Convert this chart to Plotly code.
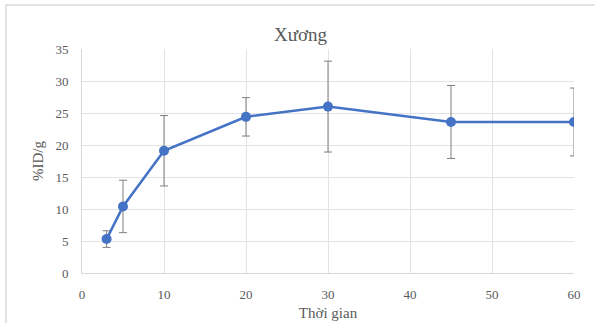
import plotly.graph_objects as go

time_min = [3, 5, 10, 20, 30, 45, 60]
uptake = [5.3, 10.4, 19.1, 24.4, 26.0, 23.6, 23.6]
uptake_sd = [1.3, 4.1, 5.5, 3.0, 7.1, 5.7, 5.3]

title_text = "Xương"
x_title = "Thời gian"
y_title = "%ID/g"

serif = "Liberation Serif, Times New Roman, serif"

fig = go.Figure()
fig.add_trace(go.Scatter(
    x=time_min, y=uptake,
    mode="lines+markers",
    line=dict(color="#4472C4", width=2.5),
    marker=dict(color="#4472C4", size=10),
    error_y=dict(type="data", array=uptake_sd, visible=True,
                 color="#7f7f7f", thickness=1, width=4),
    showlegend=False,
))

fig.update_layout(
    width=595, height=323,
    margin=dict(l=82, r=21, t=49, b=50),
    paper_bgcolor="white", plot_bgcolor="white",
    title=dict(text=title_text, x=0.505, xanchor="center", y=0.895, yanchor="middle",
               font=dict(family=serif, size=19, color="#595959")),
    font=dict(family=serif, size=13, color="#595959"),
    xaxis=dict(range=[0, 60], tickvals=[0, 10, 20, 30, 40, 50, 60], automargin=False,
               showgrid=True, gridcolor="#e3e3e3", gridwidth=1,
               showline=True, linecolor="#d9d9d9", linewidth=1, mirror=False,
               zeroline=False, ticks="", ticklen=0, ticklabelstandoff=9,
               title=dict(text=x_title, font=dict(family=serif, size=15, color="#595959"), standoff=6),
               tickfont=dict(family=serif, size=13, color="#595959")),
    yaxis=dict(range=[0, 35], tickvals=[0, 5, 10, 15, 20, 25, 30, 35], automargin=False,
               showgrid=True, gridcolor="#e3e3e3", gridwidth=1,
               showline=True, linecolor="#d9d9d9", linewidth=1,
               zeroline=False, ticks="", ticklabelstandoff=10,
               title=dict(text=y_title, font=dict(family=serif, size=15, color="#595959"), standoff=8),
               tickfont=dict(family=serif, size=13, color="#595959")),
    shapes=[dict(type="rect", xref="paper", yref="paper",
                 x0=-82/492 + 6/492, x1=1 + 21/492 + 5/492,
                 y0=-50/224 - 5/224, y1=1 + 44/224,
                 line=dict(color="#d9d9d9", width=1.5), fillcolor="rgba(0,0,0,0)", layer="below")],
)

fig.write_html("out.html", config={"displayModeBar": False},
               post_script="document.body.style.margin='0';document.body.style.overflow='hidden';")
